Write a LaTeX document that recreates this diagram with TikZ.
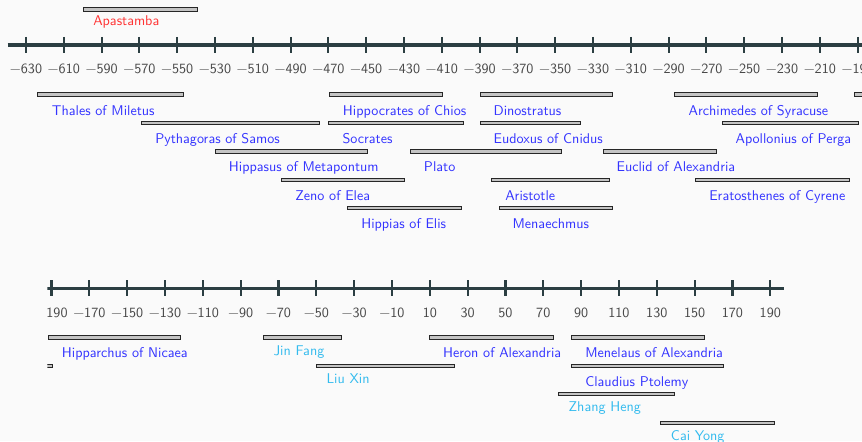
\documentclass[tikz,border=0pt]{standalone}
\usepackage{tikz}
\definecolor{axiscol}{HTML}{2B3E42}
\definecolor{labblue}{HTML}{3333FF}
\definecolor{labred}{HTML}{FF3333}
\definecolor{labcyan}{HTML}{33BBEE}
\definecolor{barfill}{HTML}{C4C4C4}
\definecolor{bgcol}{HTML}{FAFAFA}
\tikzset{
  axisline/.style={draw=axiscol, line width=2.2pt},
  tickmark/.style={draw=axiscol, line width=1.5pt},
  ticklab/.style={anchor=base, inner sep=0pt, text=black!72, font=\sffamily},
  barbox/.style={draw=black!85, fill=barfill, line width=0.7pt},
  bluelab/.style={anchor=base west, inner sep=0pt, text=labblue, font=\sffamily},
  redlab/.style={anchor=base west, inner sep=0pt, text=labred, font=\sffamily},
  cyanlab/.style={anchor=base west, inner sep=0pt, text=labcyan, font=\sffamily},
}
\newcommand\tlbar[3]{\draw[barbox] (#1,#3-1.6) rectangle (#2,#3+1.6);}
\begin{document}
\begin{tikzpicture}[x=0.709pt, y=-0.709pt]
\useasboundingbox (0,0) rectangle (862,441);
\fill[bgcol] (0,0) rectangle (862,441);
\clip (0,0) rectangle (862,441);
% ---------------- top section ----------------
\draw[axisline] (7.5,45) -- (880,45);
\foreach \v [count=\i from 0] in {630,610,590,570,550,530,510,490,470,450,430,410,390,370,350,330,310,290,270,250,230,210,190,170}{
  \draw[tickmark] (26+37.8*\i,37) -- (26+37.8*\i,53);
  \node[ticklab] (tt\i) at (26+37.8*\i,73.5) {−\v};
}
% row 0
\tlbar{83}{197}{9.5}
\node[redlab] (apastamba) at (93,25.8) {Apastamba};
% row 1
\tlbar{37.7}{183.3}{94.5}
\node[bluelab] (thales) at (51.7,115) {Thales of Miletus};
\tlbar{329}{442.3}{94.5}
\node[bluelab] (hippocrates) at (342.7,115) {Hippocrates of Chios};
\tlbar{480}{612.7}{94.5}
\node[bluelab] (dinostratus) at (493.3,115) {Dinostratus};
\tlbar{674.7}{817}{94.5}
\node[bluelab] (archimedes) at (688.3,115) {Archimedes of Syracuse};
\tlbar{854.3}{900}{94.5}
% row 2
\tlbar{141.7}{319.3}{123}
\node[bluelab] (pythagoras) at (155,143.4) {Pythagoras of Samos};
\tlbar{328.7}{463.3}{123}
\node[bluelab] (socrates) at (342.3,143.4) {Socrates};
\tlbar{480}{580.3}{123}
\node[bluelab] (eudoxus) at (493.3,143.4) {Eudoxus of Cnidus};
\tlbar{722}{858.3}{123}
\node[bluelab] (apollonius) at (735.3,143.4) {Apollonius of Perga};
% row 3
\tlbar{215.7}{367}{151.4}
\node[bluelab] (hippasus) at (228.7,171.8) {Hippasus of Metapontum};
\tlbar{410.3}{561.3}{151.4}
\node[bluelab] (plato) at (423.7,171.8) {Plato};
\tlbar{603}{716.3}{151.4}
\node[bluelab] (euclid) at (616.3,171.8) {Euclid of Alexandria};
% row 4
\tlbar{281.7}{404.7}{179.8}
\node[bluelab] (zeno) at (295,200.2) {Zeno of Elea};
\tlbar{491.7}{609}{179.8}
\node[bluelab] (aristotle) at (505,200.2) {Aristotle};
\tlbar{695.7}{849}{179.8}
\node[bluelab] (eratosthenes) at (709,200.2) {Eratosthenes of Cyrene};
% row 5
\tlbar{347.7}{461.3}{208.2}
\node[bluelab] (hippias) at (361,228.6) {Hippias of Elis};
\tlbar{499}{612.7}{208.2}
\node[bluelab] (menaechmus) at (512.3,228.6) {Menaechmus};
% ---------------- bottom section ----------------
\begin{scope}
\clip (47.3,250) rectangle (862,441);
\draw[axisline] (40,288.3) -- (784.3,288.3);
\foreach \v [count=\i from 0] in {190,170,150,130,110,90,70,50,30,10}{
  \draw[tickmark] (51.5+37.83*\i,280.3) -- (51.5+37.83*\i,296.3);
  \node[ticklab] (bn\i) at (51.5+37.83*\i,317.6) {−\v};
}
\foreach \v [count=\i from 10] in {10,30,50,70,90,110,130,150,170,190}{
  \draw[tickmark] (51.5+37.83*\i,280.3) -- (51.5+37.83*\i,296.3);
  \node[ticklab] (bp\i) at (51.5+37.83*\i,317.6) {\v};
}
% row 1
\tlbar{48.3}{180.7}{337.5}
\node[bluelab] (hipparchus) at (61.7,357.8) {Hipparchus of Nicaea};
\tlbar{263.7}{341.3}{337.5}
\node[cyanlab] (jinfang) at (273.3,355.2) {Jin Fang};
\tlbar{429}{553.3}{337.5}
\node[bluelab] (heron) at (442.8,357.8) {Heron of Alexandria};
\tlbar{571.7}{704.3}{337.5}
\node[bluelab] (menelaus) at (585,357.8) {Menelaus of Alexandria};
% row 2
\tlbar{40}{52.3}{365.7}
\tlbar{316.3}{454.7}{365.7}
\node[cyanlab] (liuxin) at (326.3,383.5) {Liu Xin};
\tlbar{571.7}{723.7}{365.7}
\node[bluelab] (ptolemy) at (585,386.1) {Claudius Ptolemy};
% row 3
\tlbar{558.7}{674.3}{394.2}
\node[cyanlab] (zhangheng) at (568.3,411.8) {Zhang Heng};
% row 4
\tlbar{660.7}{774.3}{422.6}
\node[cyanlab] (caiyong) at (670.7,440.2) {Cai Yong};
\end{scope}
\end{tikzpicture}
\end{document}
